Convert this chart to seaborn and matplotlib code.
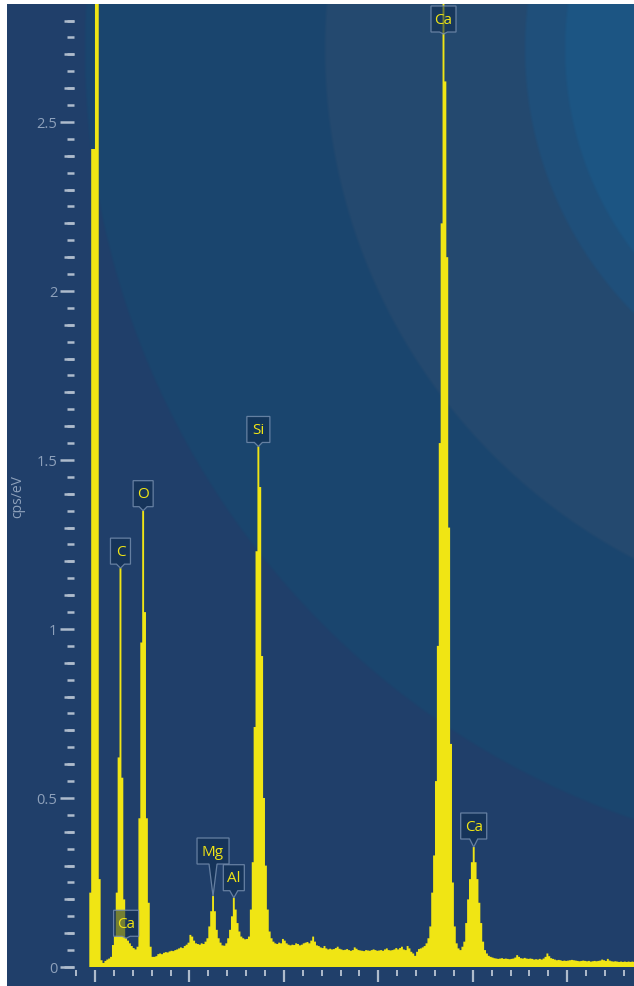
import numpy as np
import pandas as pd
import matplotlib
matplotlib.use("Agg")
import matplotlib.pyplot as plt
import matplotlib.colors as mcolors
import matplotlib.transforms as mtransforms
from matplotlib.path import Path
from matplotlib.patches import PathPatch
from matplotlib.ticker import MultipleLocator, NullFormatter
import seaborn as sns

# ---------------------------------------------------------------- data
# EDS spectrum, counts per second per eV, one value per 20 eV channel
CHANNEL_START_KEV = -0.06
CHANNEL_WIDTH_KEV = 0.02
cps_per_ev = [
    0.22, 2.42, 2.42,                          # -0.06 .. -0.02
    3.00, 3.00, 0.26, 0.02, 0.012,             # 0.00
    0.018, 0.022, 0.025, 0.03, 0.065,          # 0.10
    0.09, 0.22, 0.62, 1.18, 0.56,              # 0.20
    0.20, 0.085, 0.078, 0.07, 0.062,           # 0.30
    0.056, 0.052, 0.06, 0.44, 0.96,            # 0.40
    1.35, 1.05, 0.44, 0.19, 0.06,              # 0.50
    0.03, 0.03, 0.032, 0.038, 0.04,            # 0.60
    0.038, 0.042, 0.044, 0.043, 0.046,         # 0.70
    0.048, 0.047, 0.05, 0.052, 0.055,          # 0.80
    0.058, 0.056, 0.062, 0.066, 0.072,         # 0.90
    0.095, 0.09, 0.078, 0.07, 0.068,           # 1.00
    0.066, 0.07, 0.068, 0.075, 0.085,          # 1.10
    0.12, 0.165, 0.21, 0.165, 0.11,            # 1.20
    0.085, 0.072, 0.064, 0.063, 0.07,          # 1.30
    0.085, 0.11, 0.15, 0.205, 0.17,            # 1.40
    0.13, 0.105, 0.09, 0.085, 0.082,           # 1.50
    0.083, 0.09, 0.17, 0.31, 0.71,             # 1.60
    1.23, 1.54, 1.42, 0.92, 0.50,              # 1.70
    0.30, 0.17, 0.105, 0.085, 0.075,           # 1.80
    0.07, 0.068, 0.072, 0.07, 0.083,           # 1.90
    0.078, 0.07, 0.066, 0.064, 0.066,          # 2.00
    0.065, 0.07, 0.068, 0.064, 0.066,          # 2.10
    0.07, 0.072, 0.074, 0.07, 0.078,           # 2.20
    0.09, 0.075, 0.064, 0.062, 0.058,          # 2.30
    0.056, 0.062, 0.055, 0.052, 0.054,         # 2.40
    0.052, 0.053, 0.056, 0.06, 0.054,          # 2.50
    0.052, 0.05, 0.051, 0.053, 0.05,           # 2.60
    0.048, 0.05, 0.058, 0.054, 0.05,           # 2.70
    0.049, 0.048, 0.047, 0.05, 0.049,          # 2.80
    0.048, 0.05, 0.052, 0.05, 0.048,           # 2.90
    0.049, 0.05, 0.048, 0.052, 0.055,          # 3.00
    0.05, 0.049, 0.05, 0.052, 0.056,           # 3.10
    0.052, 0.056, 0.06, 0.052, 0.05,           # 3.20
    0.062, 0.055, 0.045, 0.04, 0.033,          # 3.30
    0.045, 0.053, 0.055, 0.058, 0.062,         # 3.40
    0.07, 0.085, 0.12, 0.22, 0.33,             # 3.50
    0.55, 0.95, 1.55, 2.2, 2.9,                # 3.60
    2.62, 2.1, 1.3, 0.66, 0.25,                # 3.70
    0.12, 0.07, 0.055, 0.05, 0.06,             # 3.80
    0.075, 0.13, 0.20, 0.26, 0.31,             # 3.90
    0.355, 0.31, 0.26, 0.19, 0.13,             # 4.00
    0.075, 0.05, 0.04, 0.033, 0.03,            # 4.10
    0.028, 0.026, 0.025, 0.024, 0.025,         # 4.20
    0.026, 0.024, 0.025, 0.024, 0.023,         # 4.30
    0.024, 0.025, 0.028, 0.035, 0.03,          # 4.40
    0.026, 0.025, 0.027, 0.025, 0.024,         # 4.50
    0.025, 0.024, 0.022, 0.023, 0.022,         # 4.60
    0.024, 0.022, 0.025, 0.03, 0.04,           # 4.70
    0.032, 0.026, 0.024, 0.022, 0.02,          # 4.80
    0.021, 0.02, 0.018, 0.019, 0.018,          # 4.90
    0.019, 0.02, 0.021, 0.02, 0.019,           # 5.00
    0.018, 0.017, 0.018, 0.019, 0.018,         # 5.10
    0.017, 0.018, 0.016, 0.017, 0.018,         # 5.20
    0.017, 0.018, 0.019, 0.022, 0.02,          # 5.30
    0.018, 0.024, 0.019, 0.017, 0.016,         # 5.40
    0.017, 0.016, 0.015, 0.016, 0.015,         # 5.50
    0.016, 0.015, 0.016, 0.015, 0.016,         # 5.60
    0.015,                                     # 5.70
]

# identified X-ray lines
peak_elements = ["C", "Ca", "O", "Mg", "Al", "Si", "Ca", "Ca"]
peak_lines_kev = [0.277, 0.341, 0.525, 1.254, 1.486, 1.740, 3.691, 4.012]

y_tick_values = [0, 0.5, 1, 1.5, 2, 2.5]
y_tick_labels = ["0", "0.5", "1", "1.5", "2", "2.5"]
y_axis_title = "cps/eV"

# ---------------------------------------------------------------- style
YELLOW = "#f0e514"
TICK_COLOR = "#aebbcc"
LABEL_COLOR = "#8ea1bb"
BAND_COLORS = ["#1c5583", "#1f4f7a", "#24496f", "#1a456e", "#203f6a"]   # inner -> outer
BAND_RADII = [335, 375, 575, 815]                                       # px
BAND_CENTER = (900, 50)                                                 # px

# callout geometry per label (px): box width, pointer length
callout_widths = [20, 25, 20, 32, 21, 23, 25, 26]
callout_pointers = [4, 2, 4, 32, 7, 4, 2, 8]
BOX_H = 26
POINTER_HALF = 4

sns.set_style("dark")
plt.rcParams["font.family"] = ["Open Sans", "DejaVu Sans"]

W, H = 634, 987
fig = plt.figure(figsize=(W / 100, H / 100), dpi=100, facecolor="white")

# ---------------------------------------------------------------- backdrop
bg_left, bg_top = 7, 5
bg_ax = fig.add_axes([bg_left / W, 0, (W - bg_left) / W, (H - bg_top) / H], zorder=0)
gx, gy = np.meshgrid(np.arange(bg_left, W) + 0.5, np.arange(bg_top, H) + 0.5)
dist = np.hypot(gx - BAND_CENTER[0], gy - BAND_CENTER[1])
rgb = np.array([mcolors.to_rgb(c) for c in BAND_COLORS])
img = np.broadcast_to(rgb[0], dist.shape + (3,)).copy()
for k, r in enumerate(BAND_RADII):
    t = np.clip((dist - r) / 3.0 + 0.5, 0, 1)[..., None]
    img = img * (1 - t) + rgb[k + 1] * t
bg_ax.imshow(img, aspect="auto", interpolation="bilinear", extent=[0, 1, 0, 1])
bg_ax.set_axis_off()

# ---------------------------------------------------------------- spectrum
ax_l, ax_r, ax_t, ax_b = 74, 634, 5, 968
ax = fig.add_axes([ax_l / W, (H - ax_b) / H, (ax_r - ax_l) / W, (ax_b - ax_t) / H], zorder=1)
ax.set_facecolor("none")

n = len(cps_per_ev)
edges = CHANNEL_START_KEV + CHANNEL_WIDTH_KEV * np.arange(n + 1)
centers = edges[:-1] + CHANNEL_WIDTH_KEV / 2
spec = pd.DataFrame({"energy": centers, "cps": cps_per_ev})

sns.histplot(data=spec, x="energy", weights="cps", bins=[float(e) for e in edges],
             element="step", fill=True, color=YELLOW, alpha=1, linewidth=0, ax=ax, zorder=2)

XMIN, XMAX = -0.222, 5.707
YMAX = 2.849
ax.set_xlim(XMIN, XMAX)
ax.set_ylim(0, YMAX)
ax.grid(False)
ax.set_xlabel("")

for s in ax.spines.values():
    s.set_visible(False)
ax.spines["bottom"].set_position(("outward", 2))

ax.xaxis.set_major_locator(MultipleLocator(1.0))
ax.xaxis.set_minor_locator(MultipleLocator(0.2))
ax.xaxis.set_major_formatter(NullFormatter())
ax.tick_params(axis="x", which="major", bottom=True, direction="out", length=8.6,
               width=1.6, color=TICK_COLOR, labelbottom=False)
ax.tick_params(axis="x", which="minor", bottom=True, direction="out", length=4.3,
               width=1.4, color=TICK_COLOR)

ax.set_yticks(y_tick_values, y_tick_labels)
ax.yaxis.set_minor_locator(MultipleLocator(0.05))
ax.tick_params(axis="y", which="major", left=True, direction="out", length=10,
               width=1.8, color=TICK_COLOR, labelcolor=LABEL_COLOR, labelsize=10.5, pad=2)
ax.tick_params(axis="y", which="minor", left=True, direction="out", length=5,
               width=1.8, color=TICK_COLOR)

# intermediate tick level every 0.1
tenths = [round(v, 2) for v in np.arange(0.1, YMAX, 0.1) if abs(v * 2 - round(v * 2)) > 1e-6]
sec = ax.secondary_yaxis("left")
sec.set_yticks(tenths)
sec.yaxis.set_major_formatter(NullFormatter())
sec.tick_params(axis="y", which="both", length=7.2, width=1.8, color=TICK_COLOR,
                direction="out", labelleft=False)
sec.yaxis.set_minor_locator(MultipleLocator(10))
for s in sec.spines.values():
    s.set_visible(False)

ax.set_ylabel(y_axis_title, color=LABEL_COLOR, fontsize=10)
ax.yaxis.set_label_coords(-0.0875, 0.49)

# ---------------------------------------------------------------- peak callouts
px_per_unit = (ax_b - ax_t) / YMAX
counts = np.asarray(cps_per_ev)
box_face = (0.06, 0.17, 0.30, 0.55)
box_edge = (0.45, 0.55, 0.68, 0.85)

for elem, line_e, bw, ptr in zip(peak_elements, peak_lines_kev, callout_widths, callout_pointers):
    near = np.flatnonzero(np.abs(centers - line_e) <= 0.021)
    idx = near[np.argmax(counts[near])]
    tip_e = centers[idx]
    tip_v = min(counts[idx], YMAX - (BOX_H + ptr + 2) / px_per_unit)
    trans = fig.dpi_scale_trans + mtransforms.ScaledTranslation(tip_e, tip_v, ax.transData)
    verts = np.array([
        (0, 0), (POINTER_HALF, ptr), (bw / 2, ptr), (bw / 2, ptr + BOX_H),
        (-bw / 2, ptr + BOX_H), (-bw / 2, ptr), (-POINTER_HALF, ptr), (0, 0),
    ], dtype=float) / 100.0
    codes = [Path.MOVETO] + [Path.LINETO] * 6 + [Path.CLOSEPOLY]
    patch = PathPatch(Path(verts, codes), transform=trans, facecolor=box_face,
                      edgecolor=box_edge, linewidth=0.9, zorder=3, clip_on=False)
    ax.add_patch(patch)
    ax.text(0, (ptr + BOX_H / 2) / 100.0, elem, transform=trans, ha="center", va="center",
            color=YELLOW, fontsize=11, zorder=4, clip_on=False)

fig.savefig("out.png", dpi=100, facecolor="white")
